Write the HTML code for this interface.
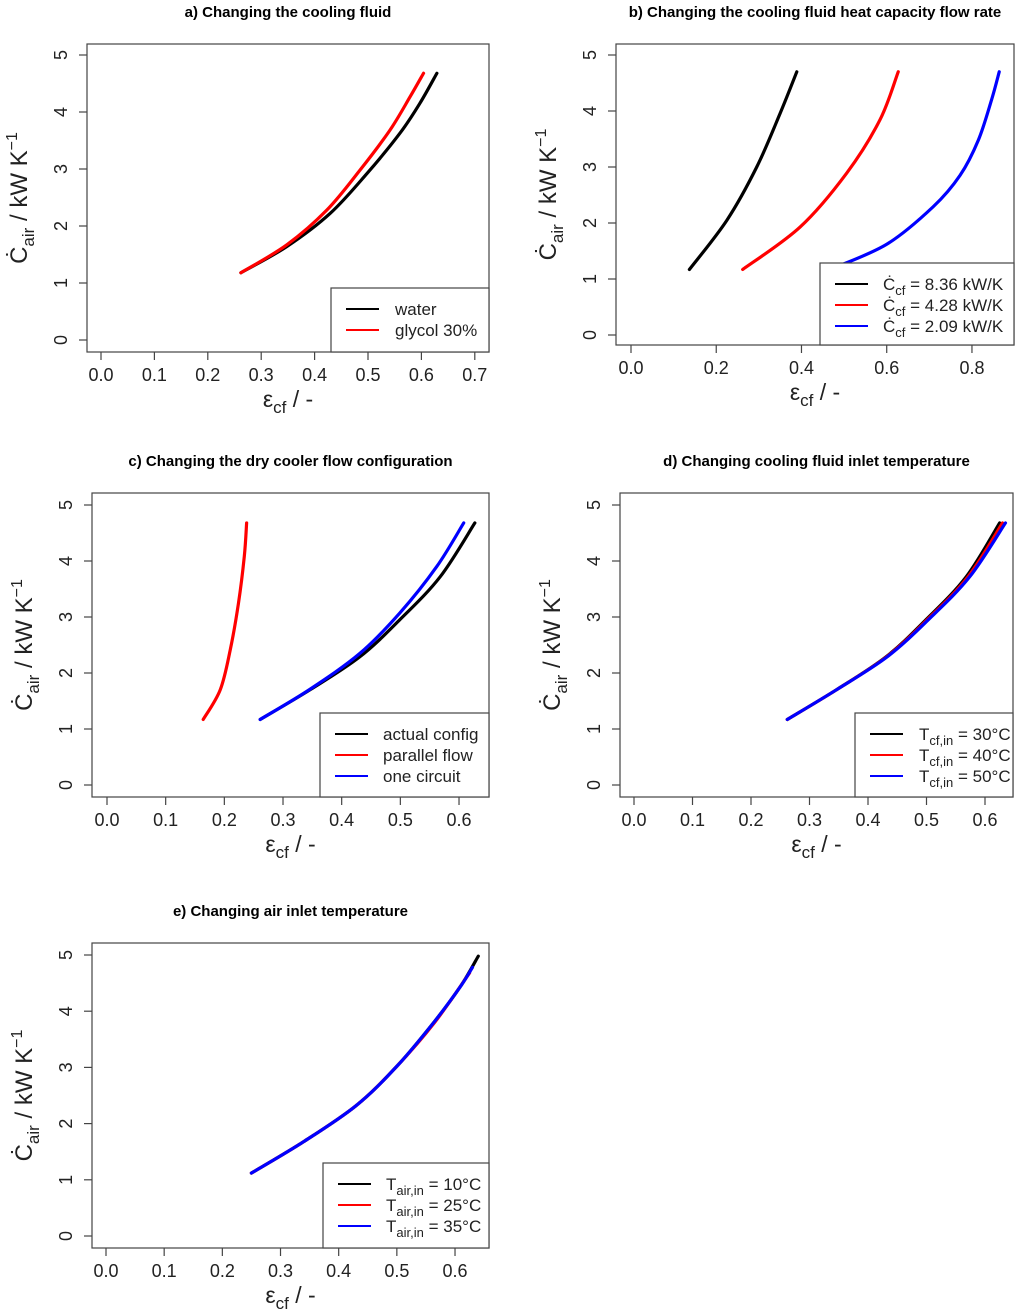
<!DOCTYPE html>
<html><head><meta charset="utf-8"><style>
body{margin:0;background:#fff;}
svg{display:block;font-family:"Liberation Sans","DejaVu Sans",sans-serif;}
</style></head><body>
<svg id="fig" width="1024" height="1311" viewBox="0 0 1024 1311"></svg>
<script>
// Panel a
const aWaterE=[0.262,0.348,0.429,0.498,0.560,0.597,0.629];
const aWaterC=[1.18,1.64,2.22,2.92,3.63,4.15,4.68];
const aGlyE=[0.262,0.348,0.423,0.485,0.541,0.579,0.604];
const aGlyC=[1.18,1.67,2.28,2.98,3.68,4.27,4.68];
// Panel b
const bBlackE=[0.137,0.225,0.295,0.35,0.389];
const bBlackC=[1.17,2.05,3.0,3.96,4.70];
const bRedE=[0.262,0.397,0.506,0.584,0.627];
const bRedC=[1.17,1.93,2.89,3.84,4.70];
const bBlueE=[0.47,0.60,0.709,0.772,0.815,0.846,0.864];
const bBlueC=[1.18,1.62,2.29,2.85,3.48,4.20,4.70];
// Panel c
const cBlackE=[0.261,0.346,0.431,0.499,0.568,0.627];
const cBlackC=[1.17,1.70,2.29,2.95,3.72,4.68];
const cRedE=[0.164,0.193,0.210,0.224,0.234,0.238];
const cRedC=[1.17,1.70,2.41,3.24,4.08,4.68];
const cBlueE=[0.261,0.346,0.431,0.499,0.562,0.608];
const cBlueC=[1.17,1.71,2.35,3.07,3.90,4.68];
// Panel d
const dE30=[0.262,0.346,0.431,0.499,0.568,0.625];
const dE40=[0.262,0.346,0.432,0.501,0.571,0.630];
const dE50=[0.262,0.346,0.433,0.503,0.574,0.635];
const dC=[1.17,1.70,2.29,2.95,3.72,4.68];
// Panel e
const eE10=[0.25,0.34,0.43,0.50,0.565,0.61,0.64];
const eC10=[1.12,1.68,2.32,3.02,3.82,4.45,4.98];
const eE25=[0.25,0.34,0.43,0.50,0.565,0.625];
const eC25=[1.12,1.68,2.32,3.02,3.80,4.68];
const eE35=[0.25,0.34,0.43,0.50,0.565,0.61,0.63];
const eC35=[1.12,1.68,2.32,3.02,3.82,4.45,4.78];
const yTicks=[0,1,2,3,4,5];
const xTicksA=[0,0.1,0.2,0.3,0.4,0.5,0.6,0.7];
const xTicksB=[0,0.2,0.4,0.6,0.8];
const xTicksC=[0,0.1,0.2,0.3,0.4,0.5,0.6];

const NS="http://www.w3.org/2000/svg";
const svg=document.getElementById('fig');
function mk(t,a,p){const e=document.createElementNS(NS,t);for(const k in a)e.setAttribute(k,a[k]);(p||svg).appendChild(e);return e;}

function panel(cfg){
  const g=mk('g',{});
  
  
  const sx=v=>cfg.x0+(v)*cfg.xs, sy=v=>cfg.y0-v*cfg.ys;
  const t=mk('text',{x:(cfg.L+cfg.R)/2,y:cfg.T-27,'text-anchor':'middle','font-size':15,'font-weight':'bold'},g);
  t.textContent=cfg.title;
  
  
  cfg.series.forEach(s=>{
    let d='';
    const n=s.e.length;
    for(let i=0;i<n;i++){
      const x=sx(s.e[i]),y=sy(s.c[i]);
      if(i===0){d+='M'+x+','+y;continue;}
      const p0=[sx(s.e[Math.max(i-2,0)]),sy(s.c[Math.max(i-2,0)])];
      const p1=[sx(s.e[i-1]),sy(s.c[i-1])];
      const p2=[x,y];
      const p3=[sx(s.e[Math.min(i+1,n-1)]),sy(s.c[Math.min(i+1,n-1)])];
      const c1=[p1[0]+(p2[0]-p0[0])/6,p1[1]+(p2[1]-p0[1])/6];
      const c2=[p2[0]-(p3[0]-p1[0])/6,p2[1]-(p3[1]-p1[1])/6];
      d+=' C'+c1+' '+c2+' '+p2;
    }
    const p=mk('path',{d:d,fill:'none',stroke:s.col,'stroke-width':3.2,'stroke-linecap':'round'},g);
    
    
  });
  const b=mk('rect',{x:cfg.L,y:cfg.T,width:cfg.R-cfg.L,height:cfg.B-cfg.T,fill:'none',stroke:'#444','stroke-width':1.2},g);
  
  
  yTicks.forEach(v=>{
    const y=sy(v);
    mk('line',{x1:cfg.L-8,x2:cfg.L,y1:y,y2:y,stroke:'#444','stroke-width':1.2},g);
    const tx=cfg.L-26;
    const tt=mk('text',{x:tx,y:y,'font-size':18,'text-anchor':'middle',transform:'rotate(-90 '+tx+' '+y+')','dominant-baseline':'central',fill:'#222'},g);
    tt.textContent=v;
    
    
  });
  cfg.xt.forEach(v=>{
    const x=sx(v);
    mk('line',{x1:x,x2:x,y1:cfg.B,y2:cfg.B+8,stroke:'#444','stroke-width':1.2},g);
    const tt=mk('text',{x:x,y:cfg.B+29,'font-size':18,'text-anchor':'middle',fill:'#222'},g);
    tt.textContent=v.toFixed(1);
    
    
  });
  const xl=mk('text',{x:(cfg.L+cfg.R)/2,y:cfg.B+55,'font-size':23,'text-anchor':'middle',fill:'#222'},g);
  xl.innerHTML='ε<tspan font-size="17" dy="6">cf</tspan><tspan dy="-6"> / -</tspan>';
  
  
  const yc=(cfg.T+cfg.B)/2, yx=cfg.L-60;
  const yl=mk('text',{x:yx,y:yc,'font-size':24,'text-anchor':'middle',fill:'#222',transform:'rotate(-90 '+yx+' '+yc+')'},g);
  yl.innerHTML='Ċ<tspan font-size="17" dy="7">air</tspan><tspan dy="-7"> / kW K</tspan><tspan font-size="16" dy="-10">−1</tspan>';
  
  
  const lg=mk('g',{},g);
  
  
  mk('rect',{x:cfg.lg[0],y:cfg.lg[1],width:cfg.R-cfg.lg[0],height:cfg.B-cfg.lg[1],fill:'#fff',stroke:'#444','stroke-width':1.2},lg);
  cfg.series.forEach((s,i)=>{
    const y=cfg.lg[1]+21+i*21;
    mk('line',{x1:cfg.lg[0]+15,x2:cfg.lg[0]+48,y1:y,y2:y,stroke:s.col,'stroke-width':2},lg);
    const tt=mk('text',{x:cfg.lg[0]+cfg.lgx,y:y+6,'font-size':17,fill:'#222'},lg);
    tt.innerHTML=s.lab;
    
    
  });
}
const sub=(a,b,c)=>a+'<tspan font-size="13" dy="5">'+b+'</tspan><tspan dy="-5">'+c+'</tspan>';
panel({name:'panel-a',title:'a) Changing the cooling fluid',L:87,R:489,T:44,B:352,x0:101,xs:534,y0:340,ys:57,xt:xTicksA,lg:[331,288],lgx:64,
 series:[{e:aWaterE,c:aWaterC,col:'#000',lab:'water'},{e:aGlyE,c:aGlyC,col:'#f00',lab:'glycol 30%'}]});
panel({name:'panel-b',title:'b) Changing the cooling fluid heat capacity flow rate',L:616,R:1014,T:44,B:345,x0:631,xs:426.2,y0:335,ys:56,xt:xTicksB,lg:[820,263],lgx:63,
 series:[{e:bBlackE,c:bBlackC,col:'#000',lab:sub('Ċ','cf',' = 8.36 kW/K')},{e:bRedE,c:bRedC,col:'#f00',lab:sub('Ċ','cf',' = 4.28 kW/K')},{e:bBlueE,c:bBlueC,col:'#00f',lab:sub('Ċ','cf',' = 2.09 kW/K')}]});
panel({name:'panel-c',title:'c) Changing the dry cooler flow configuration',L:92,R:489,T:493,B:797,x0:107,xs:586.7,y0:785,ys:56,xt:xTicksC,lg:[320,713],lgx:63,
 series:[{e:cBlackE,c:cBlackC,col:'#000',lab:'actual config'},{e:cRedE,c:cRedC,col:'#f00',lab:'parallel flow'},{e:cBlueE,c:cBlueC,col:'#00f',lab:'one circuit'}]});
panel({name:'panel-d',title:'d) Changing cooling fluid inlet temperature',L:620,R:1013,T:493,B:797,x0:634,xs:585,y0:785,ys:56,xt:xTicksC,lg:[855,713],lgx:64,
 series:[{e:dE30,c:dC,col:'#000',lab:sub('T','cf,in',' = 30°C')},{e:dE40,c:dC,col:'#f00',lab:sub('T','cf,in',' = 40°C')},{e:dE50,c:dC,col:'#00f',lab:sub('T','cf,in',' = 50°C')}]});
panel({name:'panel-e',title:'e) Changing air inlet temperature',L:92,R:489,T:943,B:1248,x0:106,xs:581.7,y0:1236,ys:56.2,xt:xTicksC,lg:[323,1163],lgx:63,
 series:[{e:eE10,c:eC10,col:'#000',lab:sub('T','air,in',' = 10°C')},{e:eE25,c:eC25,col:'#f00',lab:sub('T','air,in',' = 25°C')},{e:eE35,c:eC35,col:'#00f',lab:sub('T','air,in',' = 35°C')}]});
</script>
</body></html>
